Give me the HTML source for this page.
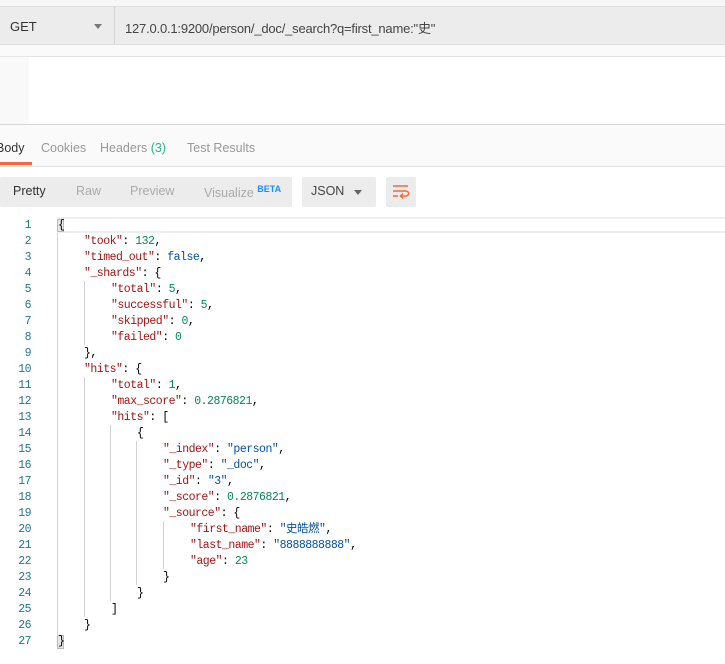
<!DOCTYPE html>
<html><head><meta charset="utf-8"><style>
*{margin:0;padding:0;box-sizing:border-box}
body{width:725px;height:664px;background:#fff;position:relative;overflow:hidden;font-family:"Liberation Sans","Noto Sans CJK SC",sans-serif}
.a{position:absolute}
.code{position:absolute;left:0;top:218px;width:725px;font-family:"Liberation Mono","Noto Sans CJK SC",monospace;font-size:11.5px;letter-spacing:-0.5px}
.ln{position:absolute;left:0;width:31px;text-align:right;color:#237893;font-size:11.5px;line-height:16px;height:16px}
.t{position:absolute;white-space:pre;color:#000;line-height:16px;height:16px}
.k{color:#a31515}.s{color:#0451a5}.n{color:#098658}
.g{position:absolute;width:1px;background:#d3d3d3}
</style></head><body>
<div class="a" style="left:0;top:0;width:725px;height:6px;background:#f6f6f6"></div>
<div class="a" style="left:0;top:6px;width:725px;height:39px;background:#ececec;border-top:1px solid #ddd;border-bottom:1px solid #ddd"></div>
<div class="a" style="left:114px;top:7px;width:1px;height:37px;background:#d4d4d4"></div>
<div class="a" style="left:10px;top:19px;font-size:13px;color:#333">GET</div>
<div class="a" style="left:94px;top:24px;width:0;height:0;border-left:4px solid transparent;border-right:4px solid transparent;border-top:5px solid #777"></div>
<div class="a" style="left:125px;top:18px;font-size:13px;color:#444;letter-spacing:-0.2px">127.0.0.1:9200/person/_doc/_search?q=first_name:"史"</div>
<div class="a" style="left:0;top:45px;width:725px;height:12px;background:#fafafa;border-bottom:1px solid #e4e4e4"></div>
<div class="a" style="left:0;top:57px;width:29px;height:67px;background:#f9f9f9"></div>
<div class="a" style="left:0;top:124px;width:725px;height:43px;background:#fafafa;border-top:1px solid #d6d6d6;border-bottom:1px solid #e2e2e2"></div>
<div class="a" style="left:-4px;top:141px;font-size:12.5px;color:#333">Body</div>
<div class="a" style="left:0;top:162px;width:32px;height:3px;background:#f26b3a"></div>
<div class="a" style="left:41px;top:141px;font-size:12.5px;color:#999">Cookies</div>
<div class="a" style="left:100px;top:141px;font-size:12.5px;color:#999">Headers <span style="color:#26b47f">(3)</span></div>
<div class="a" style="left:187px;top:141px;font-size:12.5px;color:#999">Test Results</div>
<div class="a" style="left:0;top:177px;width:292px;height:30px;background:#ececec;border-radius:2px"></div>
<div class="a" style="left:13px;top:184px;font-size:12.5px;color:#333">Pretty</div>
<div class="a" style="left:76px;top:184px;font-size:12.5px;color:#aaa">Raw</div>
<div class="a" style="left:130px;top:184px;font-size:12.5px;color:#aaa">Preview</div>
<div class="a" style="left:204px;top:184px;font-size:12.5px;color:#aaa">Visualize <span style="color:#1a8cff;font-size:9px;font-weight:bold;vertical-align:5px">BETA</span></div>
<div class="a" style="left:302px;top:177px;width:74px;height:30px;background:#ececec;border-radius:2px"></div>
<div class="a" style="left:311px;top:184px;font-size:12.5px;color:#444">JSON</div>
<div class="a" style="left:354px;top:190px;width:0;height:0;border-left:4px solid transparent;border-right:4px solid transparent;border-top:5px solid #666"></div>
<div class="a" style="left:386px;top:177px;width:30px;height:30px;background:#ececec;border-radius:2px"></div>
<svg class="a" style="left:392px;top:184px" width="18" height="16"><path d="M1 2H16M1 7H14a2.5 2.5 0 0 1 0 5H9M1 12H6" stroke="#f26b3a" stroke-width="1.6" fill="none"/><path d="M11 9.5L8.5 12 11 14.5" stroke="#f26b3a" stroke-width="1.5" fill="none"/></svg>
<div class="a" style="left:57px;top:217px;width:668px;height:16px;border-top:2px solid #eee;border-bottom:2px solid #eee"></div>
<div class="a" style="left:57px;top:219px;width:7px;height:13px;background:#e6e8e6;border:1px solid #bbb"></div>
<div class="a" style="left:57px;top:635px;width:7px;height:14px;background:#e6e8e6;border:1px solid #bbb"></div>
<div class="g" style="left:57px;top:233px;height:403px"></div>
<div class="g" style="left:84px;top:281px;height:64px"></div>
<div class="g" style="left:84px;top:377px;height:240px"></div>
<div class="g" style="left:110px;top:425px;height:176px"></div>
<div class="g" style="left:136px;top:441px;height:144px"></div>
<div class="g" style="left:163px;top:521px;height:48px"></div>
<div class="code">
<div class="ln" style="top:0px">1</div><div class="t" style="left:58px;top:0px">{</div>
<div class="ln" style="top:16px">2</div><div class="t" style="left:84px;top:16px"><span class="k">"took"</span>: <span class="n">132</span>,</div>
<div class="ln" style="top:32px">3</div><div class="t" style="left:84px;top:32px"><span class="k">"timed_out"</span>: <span class="s">false</span>,</div>
<div class="ln" style="top:48px">4</div><div class="t" style="left:84px;top:48px"><span class="k">"_shards"</span>: {</div>
<div class="ln" style="top:64px">5</div><div class="t" style="left:111px;top:64px"><span class="k">"total"</span>: <span class="n">5</span>,</div>
<div class="ln" style="top:80px">6</div><div class="t" style="left:111px;top:80px"><span class="k">"successful"</span>: <span class="n">5</span>,</div>
<div class="ln" style="top:96px">7</div><div class="t" style="left:111px;top:96px"><span class="k">"skipped"</span>: <span class="n">0</span>,</div>
<div class="ln" style="top:112px">8</div><div class="t" style="left:111px;top:112px"><span class="k">"failed"</span>: <span class="n">0</span></div>
<div class="ln" style="top:128px">9</div><div class="t" style="left:84px;top:128px">},</div>
<div class="ln" style="top:144px">10</div><div class="t" style="left:84px;top:144px"><span class="k">"hits"</span>: {</div>
<div class="ln" style="top:160px">11</div><div class="t" style="left:111px;top:160px"><span class="k">"total"</span>: <span class="n">1</span>,</div>
<div class="ln" style="top:176px">12</div><div class="t" style="left:111px;top:176px"><span class="k">"max_score"</span>: <span class="n">0.2876821</span>,</div>
<div class="ln" style="top:192px">13</div><div class="t" style="left:111px;top:192px"><span class="k">"hits"</span>: [</div>
<div class="ln" style="top:208px">14</div><div class="t" style="left:137px;top:208px">{</div>
<div class="ln" style="top:224px">15</div><div class="t" style="left:163px;top:224px"><span class="k">"_index"</span>: <span class="s">"person"</span>,</div>
<div class="ln" style="top:240px">16</div><div class="t" style="left:163px;top:240px"><span class="k">"_type"</span>: <span class="s">"_doc"</span>,</div>
<div class="ln" style="top:256px">17</div><div class="t" style="left:163px;top:256px"><span class="k">"_id"</span>: <span class="s">"3"</span>,</div>
<div class="ln" style="top:272px">18</div><div class="t" style="left:163px;top:272px"><span class="k">"_score"</span>: <span class="n">0.2876821</span>,</div>
<div class="ln" style="top:288px">19</div><div class="t" style="left:163px;top:288px"><span class="k">"_source"</span>: {</div>
<div class="ln" style="top:304px">20</div><div class="t" style="left:190px;top:304px"><span class="k">"first_name"</span>: <span class="s">"史皓燃"</span>,</div>
<div class="ln" style="top:320px">21</div><div class="t" style="left:190px;top:320px"><span class="k">"last_name"</span>: <span class="s">"8888888888"</span>,</div>
<div class="ln" style="top:336px">22</div><div class="t" style="left:190px;top:336px"><span class="k">"age"</span>: <span class="n">23</span></div>
<div class="ln" style="top:352px">23</div><div class="t" style="left:163px;top:352px">}</div>
<div class="ln" style="top:368px">24</div><div class="t" style="left:137px;top:368px">}</div>
<div class="ln" style="top:384px">25</div><div class="t" style="left:111px;top:384px">]</div>
<div class="ln" style="top:400px">26</div><div class="t" style="left:84px;top:400px">}</div>
<div class="ln" style="top:416px">27</div><div class="t" style="left:58px;top:416px">}</div>
</div>
</body></html>
